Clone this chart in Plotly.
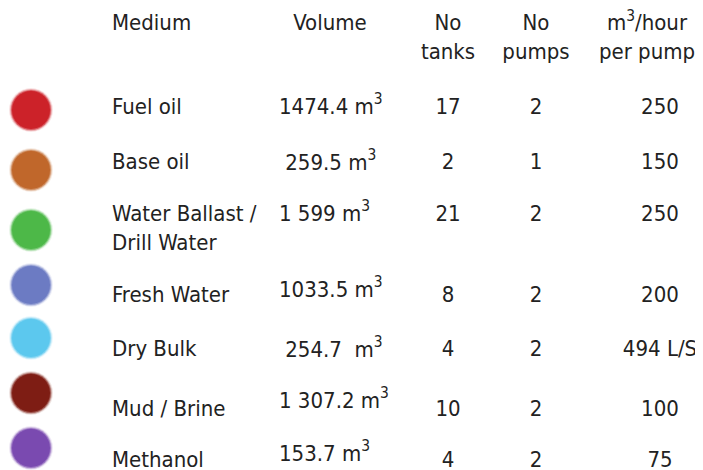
import plotly.graph_objects as go

# ---- data ----
media = ["Fuel oil", "Base oil", "Water Ballast /<br>Drill Water", "Fresh Water",
         "Dry Bulk", "Mud / Brine", "Methanol"]
volumes = ["1474.4 m<sup>3</sup>", " 259.5 m<sup>3</sup>", "1 599 m<sup>3</sup>",
           "1033.5 m<sup>3</sup>", " 254.7  m<sup>3</sup>", "1 307.2 m<sup>3</sup>",
           "153.7 m<sup>3</sup>"]
no_tanks = ["17", "2", "21", "8", "4", "10", "4"]
no_pumps = ["2", "1", "2", "2", "2", "2", "2"]
per_pump = ["250", "150", "250", "200", "494 L/S", "100", "75"]
colors = ["#CC2229", "#C0672B", "#4DB848", "#6C7BC3", "#5CC8EE", "#7E1D14", "#7A4AB0"]
headers = ["Medium", "Volume", "No<br>tanks", "No<br>pumps", "m<sup>3</sup>/hour<br>per pump"]

# ---- layout (pixel-space positions) ----
W, H = 703, 470
PAD = 8  # page body margin
row_y = [108, 163, 230, 296, 350, 410, 461]
first_line_y = [108, 163, 215, 296, 350, 410, 461]
vol_y = [108, 164, 215, 291, 351, 402, 455]
dot_y = [110, 170, 230, 285, 338, 393, 448]
dot_x = 31
col_medium = 112
col_volume = 279
col_tanks = 448
col_pumps = 536
col_rate = 660
header_y = 39

FONT = "Tahoma, 'DejaVu Sans Condensed', Roboto, sans-serif"
fs = 22
tc = "#222222"

fig = go.Figure()

# dots: layered markers give a soft, slightly blurred edge
for size, op in [(44, 0.12), (42, 0.3), (40, 0.6), (38, 1.0)]:
    fig.add_trace(go.Scatter(x=[dot_x] * len(colors), y=dot_y, mode="markers",
                             marker=dict(size=size, color=colors, opacity=op, line=dict(width=0)),
                             hoverinfo="skip", showlegend=False))

def txt(xs, ys, texts, pos):
    fig.add_trace(go.Scatter(x=xs, y=ys, mode="text", text=texts, textposition=pos,
                             textfont=dict(family=FONT, size=fs, color=tc),
                             hoverinfo="skip", showlegend=False))

# headers
txt([col_medium], [24], [headers[0]], "middle right")
txt([330], [24], [headers[1]], "middle center")
txt([col_tanks, col_pumps, 647], [header_y] * 3, headers[2:], "middle center")

# columns
n = len(media)
txt([col_medium] * n, row_y, media, "middle right")
txt([col_volume] * n, vol_y, volumes, "middle right")
txt([col_tanks] * n, first_line_y, no_tanks, "middle center")
txt([col_pumps] * n, first_line_y, no_pumps, "middle center")
txt([col_rate] * n, first_line_y, per_pump, "middle center")

fig.update_layout(
    width=W - PAD, height=H - PAD, margin=dict(l=0, r=0, t=0, b=0),
    paper_bgcolor="white", plot_bgcolor="white",
    xaxis=dict(range=[PAD, W], visible=False, fixedrange=True),
    yaxis=dict(range=[H, PAD], visible=False, fixedrange=True),
)

fig.write_html("out.html")
